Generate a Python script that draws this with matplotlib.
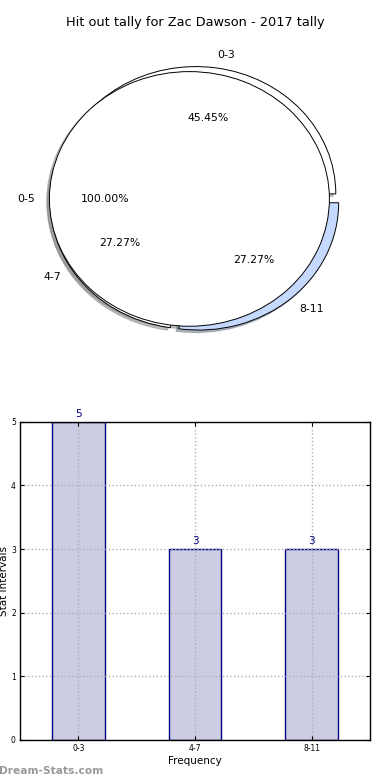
import matplotlib
matplotlib.use("Agg")
import matplotlib.pyplot as plt

# pie data
whole_labels = ["0-5"]
whole_counts = [11]
pie_labels = ["0-3", "4-7", "8-11"]
pie_counts = [5, 3, 3]
pie_colors = ["white", "white", "#c5d9fe"]

# bar data
bar_labels = ["0-3", "4-7", "8-11"]
bar_counts = [5, 3, 3]

fig = plt.figure(figsize=(3.9, 7.8), dpi=100)
plt.subplots_adjust(left=0.0513, right=0.9487, top=0.949, bottom=0.0513, hspace=0.2)

ax1 = fig.add_subplot(211)
wp = {"edgecolor": "black", "linewidth": 0.7}
shd = {"ox": -0.014, "oy": -0.014, "shade": 0.5}
ax1.pie(pie_counts, labels=pie_labels, colors=pie_colors, explode=[0.04] * 3,
        autopct="%1.2f%%", shadow=shd, wedgeprops=wp,
        textprops={"fontsize": 7.8})
ax1.pie(whole_counts, labels=whole_labels, colors=["white"], explode=[0.04],
        autopct="%1.2f%%", shadow=shd, wedgeprops=wp,
        textprops={"fontsize": 7.8})
ax1.set_aspect("auto")
ax1.set_xlim(-1.25, 1.25)
ax1.set_ylim(-1.25, 1.25)
ax1.set_title("Hit out tally for Zac Dawson - 2017 tally", fontsize=9.3, pad=10)

ax2 = fig.add_subplot(212)
x = range(len(bar_labels))
bars = ax2.bar(x, bar_counts, width=0.45, color="#ccccE4", edgecolor="navy",
               linewidth=1.0, zorder=1)
for b, v in zip(bars, bar_counts):
    ax2.text(b.get_x() + b.get_width() / 2, v + 0.05, str(v), ha="center",
             va="bottom", fontsize=7.5, color="navy")
ax2.set_xlim(-0.5, 2.5)
ax2.set_ylim(0, 5)
ax2.set_xticks(list(x))
ax2.set_xticklabels(bar_labels)
ax2.set_yticks(range(6))
ax2.tick_params(direction="in", top=True, right=True, labelsize=5.5, length=3, pad=3)
ax2.grid(True, linestyle=":", color="#b0b0b0", linewidth=1.0)
ax2.set_axisbelow(False)
ax2.set_xlabel("Frequency", fontsize=7.5, labelpad=2)
ax2.set_ylabel("Stat Intervals", fontsize=7.5)
ax2.yaxis.set_label_coords(-0.031, 0.5)
for s in ax2.spines.values():
    s.set_linewidth(1.0)
    s.set_zorder(3)

fig.text(-0.003, 0.005, "Dream-Stats.com", fontsize=7.7, color="#999999",
         fontweight="bold", ha="left", va="bottom")

fig.savefig("out.png", dpi=100)
